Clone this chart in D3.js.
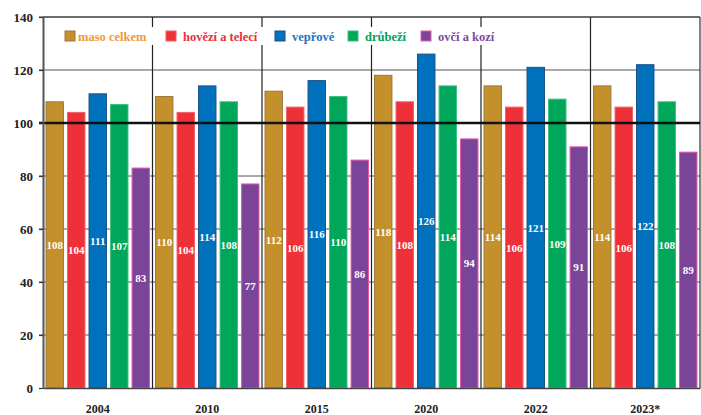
<!DOCTYPE html>
<html><head><meta charset="utf-8">
<script src="https://cdn.jsdelivr.net/npm/d3@7"></script>
<style>body{margin:0;background:#fff}svg{display:block}</style>
</head><body>
<svg id="c" width="701" height="415"></svg>
<script>
const years = ["2004","2010","2015","2020","2022","2023*"];
const seriesNames = ["maso celkem","hovězí a telecí","vepřové","drůbeží","ovčí a kozí"];
const masoCelkem = [108,110,112,118,114,114];
const hovezi = [104,104,106,108,106,106];
const veprove = [111,114,116,126,121,122];
const drubezi = [107,108,110,114,109,108];
const ovci = [83,77,86,94,91,89];
const yTicks = [0,20,40,60,80,100,120,140];

const seriesValues = [masoCelkem,hovezi,veprove,drubezi,ovci];
const fills = ["#C4902C","#EE3138","#0071BD","#00A65A","#7A4599"];
const strokes = ["#9C7A3C","#F06068","#1D4F80","#3CC080","#E858A8"];
const textCols = ["#EE9A35","#EA2E3A","#1A74C2","#00A05C","#7A4A9C"];

const svg = d3.select("#c");
const L=43, R=700, T=17, B=388;
const font = "Liberation Serif, Times New Roman, serif";
const x = d3.scaleBand().domain(years).range([L,R]).padding(0);
const xi = d3.scaleBand().domain(seriesNames).range([0,x.bandwidth()]).paddingInner(0.19).paddingOuter(0.14);
const y = d3.scaleLinear().domain([0,140]).range([B,T]);

svg.append("g").selectAll("line").data(yTicks.filter(t=>t!==100&&t!==0)).join("line")
  .attr("x1",L-4).attr("x2",R).attr("y1",d=>y(d)).attr("y2",d=>y(d))
  .attr("stroke","#555").attr("stroke-width",1.2);

svg.append("g").selectAll("line").data(years.slice(1)).join("line")
  .attr("x1",d=>x(d)).attr("x2",d=>x(d)).attr("y1",T).attr("y2",B)
  .attr("stroke","#222").attr("stroke-width",1.2);
svg.append("line").attr("x1",R).attr("x2",R).attr("y1",T).attr("y2",B).attr("stroke","#333").attr("stroke-width",1.2);

const data = [];
years.forEach((yr,i)=>seriesNames.forEach((s,j)=>data.push({yr,s,j,v:seriesValues[j][i]})));
const g = svg.append("g");
g.selectAll("rect").data(data).join("rect")
  .attr("x",d=>x(d.yr)+xi(d.s)).attr("width",xi.bandwidth())
  .attr("y",d=>y(d.v)).attr("height",d=>B-y(d.v))
  .attr("fill",d=>fills[d.j]).attr("stroke",d=>strokes[d.j]).attr("stroke-width",1);
g.selectAll("text").data(data).join("text")
  .attr("x",d=>x(d.yr)+xi(d.s)+xi.bandwidth()/2)
  .attr("y",d=>(y(d.v)+B)/2+4)
  .attr("text-anchor","middle").attr("fill","#fff")
  .attr("font-family",font).attr("font-weight","bold").attr("font-size",11)
  .text(d=>d.v);

svg.append("line").attr("x1",L-4).attr("x2",R).attr("y1",y(100)).attr("y2",y(100))
  .attr("stroke","#111").attr("stroke-width",2.5);

const yAxis = d3.axisLeft(y).tickValues(yTicks).tickSize(4).tickSizeOuter(0);
const ya = svg.append("g").attr("transform",`translate(${L},0)`).call(yAxis);
ya.select(".domain").attr("stroke","#555").attr("stroke-width",2);
ya.selectAll(".tick line").attr("stroke","#333").attr("stroke-width",1.2);
ya.selectAll(".tick text").attr("font-family",font).attr("font-weight","bold").attr("font-size",13).attr("fill","#222").attr("x",-10);

const xAxis = d3.axisBottom(x).tickSize(0);
const xa = svg.append("g").attr("transform",`translate(0,${B})`).call(xAxis);
xa.select(".domain").attr("stroke","#444").attr("stroke-width",1.5);
xa.selectAll(".tick text").attr("font-family",font).attr("font-weight","bold").attr("font-size",12).attr("fill","#222").attr("dy","0").attr("y",25);

svg.append("line").attr("x1",L).attr("x2",R).attr("y1",T).attr("y2",T).attr("stroke","#333").attr("stroke-width",1.2);

const lg = svg.append("g");
lg.append("rect").attr("x",58).attr("y",27).attr("width",450).attr("height",18).attr("fill","#fff");
const legX = [65,166,275,348,421];
seriesNames.forEach((s,j)=>{
  lg.append("rect").attr("x",legX[j]).attr("y",31).attr("width",10).attr("height",10)
    .attr("fill",fills[j]).attr("stroke",strokes[j]).attr("stroke-width",1);
  lg.append("text").attr("x",legX[j]+(j===0?13:17)).attr("y",40.5)
    .attr("fill",textCols[j]).attr("font-family",font).attr("font-weight","bold").attr("font-size",12.5)
    .text(s);
});
</script>
</body></html>
